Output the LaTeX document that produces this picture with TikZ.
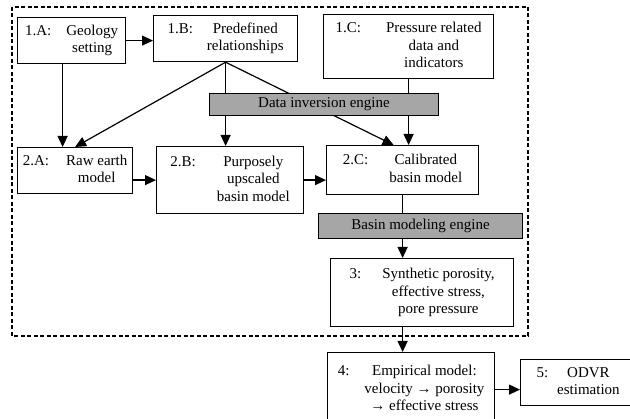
\documentclass[tikz,border=0pt]{standalone}
\usepackage{fontspec}
\setmainfont{Liberation Serif}
\usetikzlibrary{arrows.meta,calc}
\tikzset{
  stagebox/.style={draw, line width=1.2pt, anchor=north west, inner sep=0pt,
    font=\fontsize{15}{17.5}\selectfont},
  engine/.style={draw, line width=1pt, fill=black!35, anchor=north west, inner sep=0pt,
    font=\fontsize{15}{17.5}\selectfont},
  link/.style={line width=1.2pt, -{Triangle[length=11pt,width=10pt]}},
}
\newcommand{\stagetext}[3]{\begin{tabular}[t]{@{}l@{}}#1\end{tabular}\hspace{#2}\begin{tabular}[t]{@{}c@{}}#3\end{tabular}}
\begin{document}
\begin{tikzpicture}[x=1pt, y=-1pt]
\useasboundingbox (0,0) rectangle (630,419);
\draw[line width=1.2pt, dash pattern=on 4pt off 2.5pt] (12,7) rectangle (528,336);
\node[stagebox, minimum width=108pt, minimum height=46pt] (geo) at (17,17) {\stagetext{1.A:}{15pt}{Geology\\setting}};
\node[stagebox, minimum width=144pt, minimum height=46pt] (relB) at (153,15) {\stagetext{1.B:}{14pt}{Predefined\\relationships}};
\node[stagebox, minimum width=170pt, minimum height=64pt] (pres) at (323,14) {\stagetext{1.C:}{25pt}{Pressure related\\data and\\indicators}};
\node[stagebox, minimum width=115pt, minimum height=46pt] (raw) at (17,147) {\stagetext{2.A:}{17pt}{Raw earth\\model}};
\node[stagebox, minimum width=147pt, minimum height=67pt] (upsc) at (156,146) {\stagetext{2.B:}{21pt}{Purposely\\upscaled\\basin model}};
\node[stagebox, minimum width=152pt, minimum height=49pt] (cal) at (326,145) {\stagetext{2.C:}{21pt}{Calibrated\\basin model}};
\node[stagebox, minimum width=183pt, minimum height=68pt] (syn) at (330,258) {\stagetext{3:}{21pt}{Synthetic porosity,\\effective stress,\\pore pressure}};
\node[stagebox, minimum width=167pt, minimum height=74pt] (emp) at (327,352) {\stagetext{4:}{15pt}{Empirical model:\\velocity → porosity\\→ effective stress}};
\node[stagebox, minimum width=115pt, minimum height=46pt] (odvr) at (520,359) {\stagetext{5:}{9pt}{ODVR\\estimation}};
\coordinate (geoout) at ($(geo.south)+(-9,0)$);
\coordinate (calin) at ($(cal.north)+(-9,0)$);
\draw[link] (geo.east) -- (geo.east -| relB.west);
\draw[link] (geoout) -- (geoout |- raw.north);
\draw[link] (relB.south) -- (raw.north);
\draw[link] (relB.south) -- (relB.south |- upsc.north);
\draw[link] (relB.south) -- (calin);
\draw[link] (pres.south) -- (pres.south |- cal.north);
\draw[link] (upsc.west -| raw.east) -- (upsc.west);
\draw[link] (upsc.east) -- (upsc.east -| cal.west);
\draw[link] (cal.south) -- (cal.south |- syn.north);
\draw[link] (cal.south |- syn.south) -- (cal.south |- emp.north);
\draw[link] (emp.east) -- (emp.east -| odvr.west);
\node[engine, minimum width=229pt, minimum height=22pt] (inv) at (209,93) {Data inversion engine};
\node[engine, minimum width=204pt, minimum height=25pt] (bme) at (318,213) {Basin modeling engine};
\end{tikzpicture}
\end{document}
